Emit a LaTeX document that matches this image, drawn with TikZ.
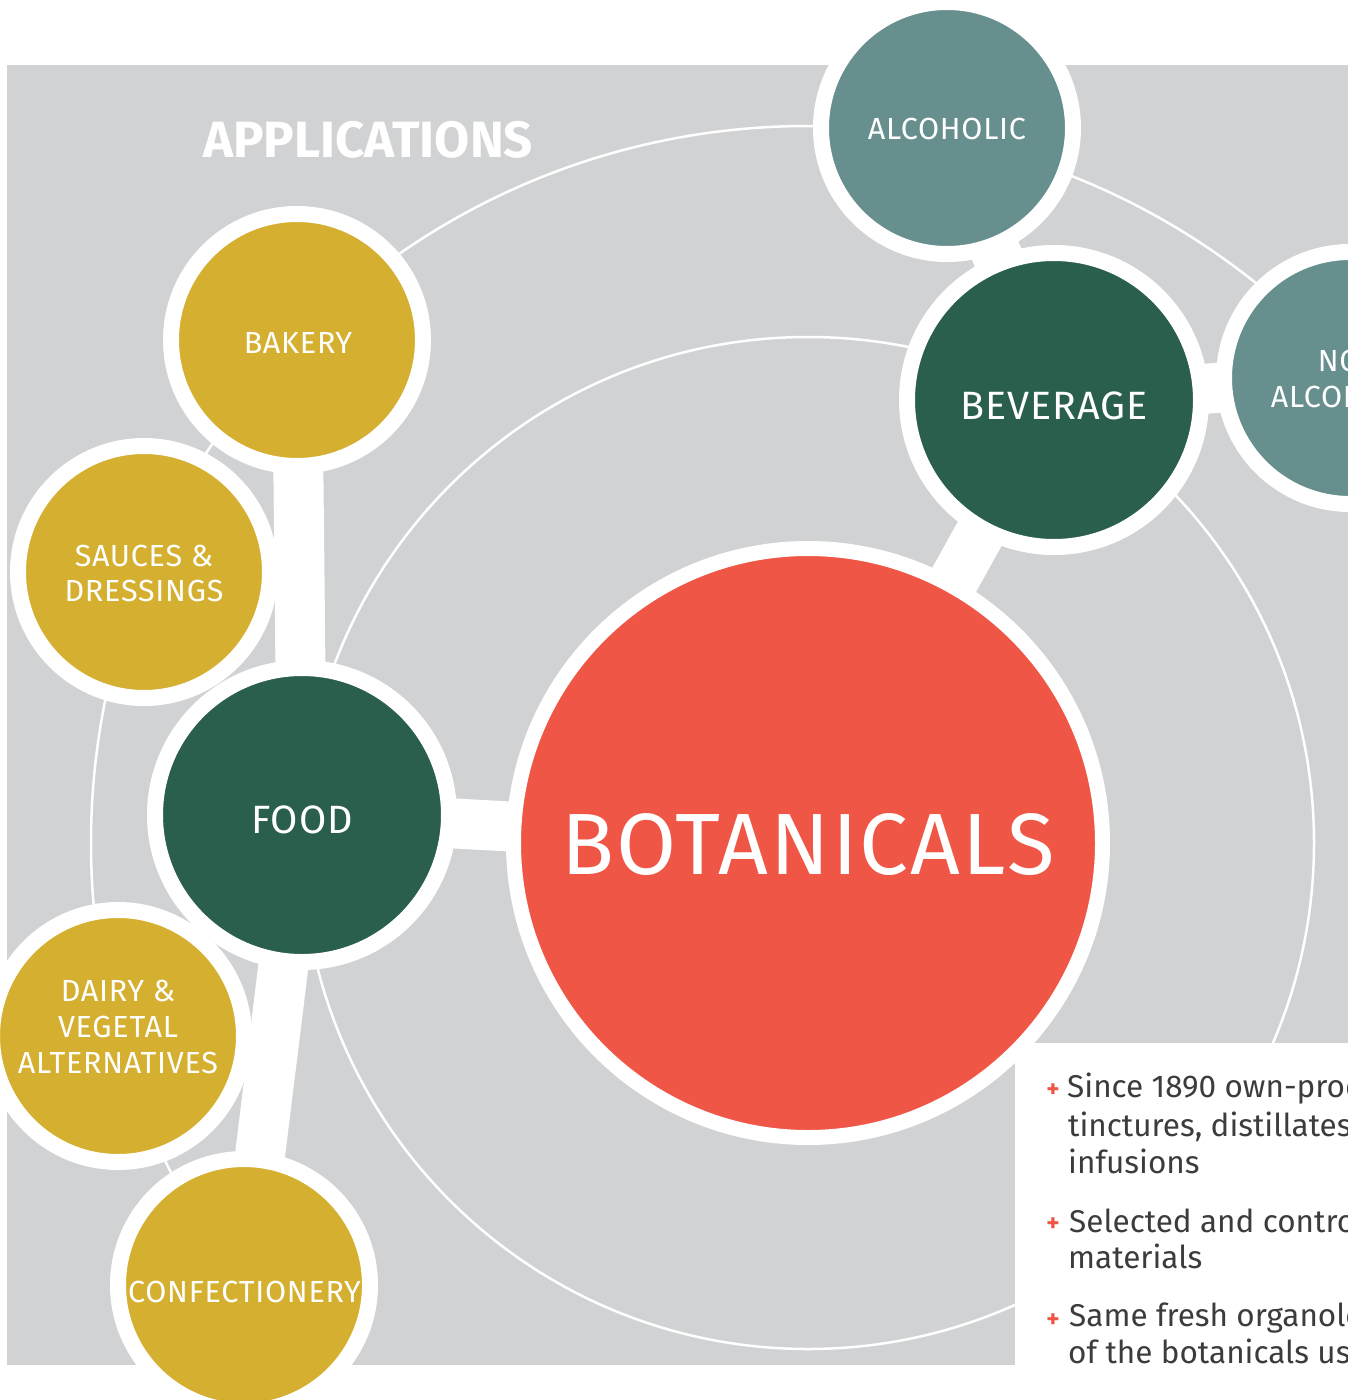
\documentclass[tikz,border=0pt]{standalone}
\usepackage{fontspec}
\setmainfont{Fira Sans}
\newfontfamily\labelfont[LetterSpace=2.5]{Fira Sans}
\definecolor{bggray}{HTML}{D1D2D4}
\definecolor{gold}{HTML}{D5AF2F}
\definecolor{dgreen}{HTML}{2A5E4D}
\definecolor{teal}{HTML}{678F8E}
\definecolor{coral}{HTML}{F05646}
\definecolor{bodytext}{HTML}{3C3C3B}
\begin{document}
\begin{tikzpicture}[x=1pt,y=-1pt,
  orbit/.style={draw=white, line width=2.5pt},
  bubble/.style={circle, draw=white, inner sep=0pt, outer sep=0pt},
  smallb/.style={bubble, line width=16pt, minimum size=252pt},
  midb/.style={bubble, line width=16pt, minimum size=294pt},
  bigb/.style={bubble, line width=15pt, minimum size=589pt},
  bar/.style={draw=white, line width=50pt},
  lbls/.style={text=white, inner sep=0pt, font=\labelfont\fontsize{30.5}{36}\selectfont},
  lblm/.style={text=white, inner sep=0pt, font=\labelfont\fontsize{39.5}{44}\selectfont},
  lblb/.style={text=white, inner sep=0pt, font=\labelfont\fontsize{87}{90}\selectfont},
  title/.style={text=white, inner sep=0pt, font=\bfseries\fontsize{51}{56}\selectfont},
  bline/.style={text=bodytext, inner sep=0pt, anchor=base west, font=\fontsize{31.5}{38}\selectfont},
  plus/.style={text=coral, inner sep=0pt, font=\bfseries\fontsize{25}{25}\selectfont}
]
\useasboundingbox (0,0) rectangle (1348,1400);
\clip (0,0) rectangle (1348,1400);
% background panel
\fill[bggray] (7,65) rectangle (1370,1365);
% orbits
\draw[orbit] (808,843) circle[radius=506];
\draw[orbit] (808,843) circle[radius=717];
% white text panel
\fill[white] (1015,1043) rectangle (1370,1420);
% bubbles
\node[bigb, fill=coral] (bot) at (808,843) {};
\node[midb, fill=dgreen] (bev) at (1054,400) {};
\node[midb, fill=dgreen] (food) at (302,815) {};
\node[smallb, fill=teal] (alc) at (947,128) {};
\node[smallb, fill=teal] (nonalc) at (1350,378) {};
\node[smallb, fill=gold] (bak) at (297,340) {};
\node[smallb, fill=gold] (sau) at (144,572) {};
\node[smallb, fill=gold] (dai) at (118,1036) {};
\node[smallb, fill=gold] (conf) at (244,1285) {};
% connectors
\draw[bar] (food) -- (bot);
\draw[bar] (bot) -- (bev);
\draw[bar] (bev) -- (alc);
\draw[bar] (bev) -- (nonalc);
\draw[bar] (food) -- (bak);
\draw[bar] (food) -- (conf);
% labels
\node[title] (ttl) at (368,140) {APPLICATIONS};
\node[lblb] (tbot) at (808,845) {BOTANICALS};
\node[lblm] (tbev) at (1054,406) {BEVERAGE};
\node[lblm] (tfood) at (302,820) {FOOD};
\node[lbls] (talc) at (947,129) {ALCOHOLIC};
\node[lbls] (tna1) at (1350,361) {NON};
\node[lbls] (tna2) at (1350,397) {ALCOHOLIC};
\node[lbls] (tbak) at (298,343) {BAKERY};
\node[lbls] (tsau1) at (144,556) {SAUCES \&};
\node[lbls] (tsau2) at (144,591) {DRESSINGS};
\node[lbls] (tdai1) at (118,991) {DAIRY \&};
\node[lbls] (tdai2) at (118,1027) {VEGETAL};
\node[lbls] (tdai3) at (118,1063) {ALTERNATIVES};
\node[lbls] (tconf) at (244.5,1292) {CONFECTIONERY};
% bullet list
\node[plus] (p1) at (1053,1091) {+};
\node[bline] (b11) at (1067,1097) {Since 1890 own-produced};
\node[bline] (b12) at (1068,1136) {tinctures, distillates and};
\node[bline] (b13) at (1068,1173) {infusions};
\node[plus] (p2) at (1053,1225) {+};
\node[bline] (b21) at (1069,1232) {Selected and controlled raw};
\node[bline] (b22) at (1068,1268) {materials};
\node[plus] (p3) at (1053,1321) {+};
\node[bline] (b31) at (1069,1326) {Same fresh organoleptic profile};
\node[bline] (b32) at (1068,1363) {of the botanicals used};
\end{tikzpicture}
\end{document}
